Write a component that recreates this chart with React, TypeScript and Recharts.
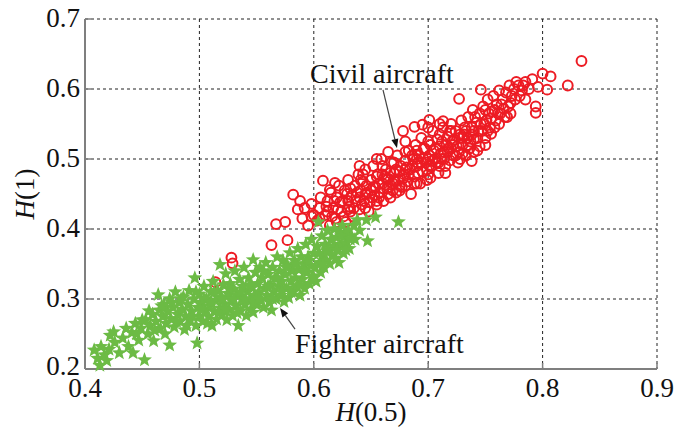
import React from "react";
import {
  ScatterChart,
  Scatter,
  XAxis,
  YAxis,
  CartesianGrid,
  ReferenceDot,
  ReferenceLine,
  Label,
} from "recharts";

const xTicks = [0.4, 0.5, 0.6, 0.7, 0.8, 0.9];
const yTicks = [0.2, 0.3, 0.4, 0.5, 0.6, 0.7];

const civilPairs: [number, number][] = [
  [0.528, 0.359], [0.529, 0.351], [0.514, 0.324], [0.563, 0.377], [0.577, 0.384],
  [0.567, 0.407], [0.575, 0.41], [0.582, 0.449], [0.586, 0.428], [0.59, 0.415],
  [0.595, 0.405], [0.598, 0.436], [0.6, 0.42], [0.603, 0.412], [0.605, 0.43],
  [0.608, 0.469], [0.61, 0.42], [0.612, 0.44], [0.614, 0.405], [0.615, 0.452],
  [0.617, 0.43], [0.619, 0.415], [0.62, 0.445], [0.622, 0.462], [0.624, 0.425],
  [0.625, 0.44], [0.627, 0.455], [0.628, 0.41], [0.63, 0.47], [0.631, 0.432],
  [0.633, 0.448], [0.634, 0.418], [0.636, 0.462], [0.637, 0.44], [0.639, 0.478],
  [0.64, 0.428], [0.641, 0.455], [0.643, 0.468], [0.644, 0.44], [0.645, 0.485],
  [0.647, 0.452], [0.648, 0.425], [0.65, 0.47], [0.651, 0.445], [0.652, 0.49],
  [0.654, 0.46], [0.655, 0.435], [0.656, 0.478], [0.658, 0.452], [0.659, 0.5],
  [0.66, 0.465], [0.661, 0.44], [0.663, 0.485], [0.664, 0.458], [0.665, 0.472],
  [0.667, 0.445], [0.668, 0.495], [0.669, 0.465], [0.67, 0.48], [0.672, 0.452],
  [0.673, 0.505], [0.674, 0.47], [0.676, 0.49], [0.677, 0.46], [0.678, 0.54],
  [0.679, 0.478], [0.68, 0.498], [0.682, 0.468], [0.683, 0.512], [0.684, 0.485],
  [0.685, 0.45], [0.687, 0.5], [0.688, 0.475], [0.689, 0.52], [0.69, 0.49],
  [0.692, 0.505], [0.693, 0.465], [0.694, 0.53], [0.695, 0.482], [0.697, 0.515],
  [0.698, 0.495], [0.699, 0.47], [0.7, 0.525], [0.701, 0.505], [0.702, 0.473],
  [0.703, 0.49], [0.704, 0.54], [0.705, 0.512], [0.707, 0.495], [0.708, 0.528],
  [0.709, 0.48], [0.71, 0.518], [0.712, 0.5], [0.713, 0.545], [0.714, 0.51],
  [0.715, 0.49], [0.717, 0.532], [0.718, 0.515], [0.719, 0.498], [0.72, 0.55],
  [0.721, 0.525], [0.722, 0.505], [0.724, 0.54], [0.725, 0.518], [0.726, 0.495],
  [0.727, 0.586], [0.727, 0.51], [0.728, 0.535], [0.729, 0.555], [0.73, 0.52],
  [0.732, 0.545], [0.733, 0.505], [0.734, 0.53], [0.735, 0.56], [0.736, 0.515],
  [0.738, 0.497], [0.738, 0.545], [0.739, 0.57], [0.74, 0.528], [0.742, 0.552],
  [0.743, 0.512], [0.745, 0.518], [0.745, 0.565], [0.746, 0.599], [0.747, 0.54],
  [0.748, 0.575], [0.75, 0.53], [0.751, 0.555], [0.752, 0.585], [0.754, 0.545],
  [0.755, 0.536], [0.756, 0.568], [0.757, 0.59], [0.759, 0.555], [0.76, 0.578],
  [0.762, 0.598], [0.763, 0.565], [0.765, 0.585], [0.767, 0.56], [0.768, 0.595],
  [0.769, 0.56], [0.77, 0.575], [0.771, 0.605], [0.773, 0.59], [0.775, 0.6],
  [0.777, 0.61], [0.779, 0.605], [0.782, 0.598], [0.785, 0.61], [0.788, 0.6],
  [0.791, 0.614], [0.794, 0.575], [0.794, 0.566], [0.796, 0.603], [0.8, 0.622],
  [0.804, 0.599], [0.807, 0.618], [0.822, 0.605], [0.834, 0.64],
  [0.623, 0.438], [0.629, 0.45], [0.635, 0.43], [0.641, 0.47], [0.646, 0.462],
  [0.653, 0.448], [0.657, 0.465], [0.662, 0.475], [0.666, 0.46], [0.671, 0.468],
  [0.675, 0.482], [0.681, 0.488], [0.686, 0.49], [0.691, 0.495], [0.696, 0.5],
  [0.701, 0.49], [0.706, 0.5], [0.711, 0.508], [0.716, 0.52], [0.723, 0.528],
  [0.731, 0.535], [0.737, 0.525], [0.744, 0.54], [0.749, 0.55], [0.753, 0.565],
  [0.758, 0.57], [0.764, 0.578], [0.643, 0.478], [0.632, 0.458], [0.66, 0.49],
  [0.67, 0.495], [0.68, 0.51], [0.69, 0.512], [0.71, 0.535], [0.72, 0.54],
  [0.6185, 0.466], [0.614, 0.456], [0.688, 0.546], [0.695, 0.549], [0.701, 0.556],
  [0.713, 0.554],
  [0.605, 0.415], [0.611, 0.432], [0.616, 0.418], [0.618, 0.44], [0.621, 0.428],
  [0.626, 0.418], [0.63, 0.44], [0.632, 0.425], [0.638, 0.452], [0.642, 0.435],
  [0.645, 0.45], [0.649, 0.438], [0.652, 0.46], [0.655, 0.475], [0.657, 0.445],
  [0.661, 0.458], [0.664, 0.47], [0.667, 0.48], [0.669, 0.455], [0.672, 0.485],
  [0.675, 0.462], [0.678, 0.472], [0.68, 0.485], [0.683, 0.478], [0.686, 0.505],
  [0.688, 0.465], [0.691, 0.48], [0.694, 0.495], [0.696, 0.515], [0.699, 0.485],
  [0.702, 0.52], [0.704, 0.498], [0.707, 0.515], [0.709, 0.495], [0.712, 0.525],
  [0.714, 0.5], [0.717, 0.51], [0.719, 0.54], [0.722, 0.52], [0.724, 0.505],
  [0.727, 0.53], [0.73, 0.508], [0.733, 0.54], [0.735, 0.52], [0.738, 0.535],
  [0.741, 0.56], [0.743, 0.53], [0.746, 0.55], [0.75, 0.57], [0.752, 0.54],
  [0.755, 0.558], [0.758, 0.545], [0.761, 0.565], [0.766, 0.572], [0.772, 0.58],
  [0.776, 0.585], [0.78, 0.59], [0.783, 0.605], [0.65, 0.455], [0.66, 0.478],
  [0.67, 0.47], [0.68, 0.462], [0.69, 0.5], [0.7, 0.5], [0.71, 0.49],
  [0.72, 0.515], [0.73, 0.53], [0.74, 0.54], [0.64, 0.445], [0.63, 0.428],
  [0.62, 0.41], [0.612, 0.425], [0.606, 0.445], [0.598, 0.418], [0.592, 0.43],
  [0.588, 0.44],
  [0.645, 0.43], [0.655, 0.44], [0.665, 0.45], [0.675, 0.455], [0.69, 0.465],
  [0.7, 0.478], [0.715, 0.48], [0.728, 0.5], [0.74, 0.51], [0.75, 0.52],
  [0.762, 0.55], [0.772, 0.565], [0.785, 0.585], [0.64, 0.49], [0.655, 0.5],
  [0.665, 0.51], [0.68, 0.525], [0.7, 0.545], [0.71, 0.55],
];

const fighterPairs: [number, number][] = [
  [0.408, 0.227], [0.411, 0.215], [0.413, 0.205], [0.414, 0.232], [0.417, 0.22],
  [0.419, 0.212], [0.421, 0.228], [0.422, 0.248], [0.425, 0.253], [0.426, 0.238],
  [0.43, 0.223], [0.433, 0.244], [0.436, 0.258], [0.438, 0.232], [0.442, 0.223],
  [0.441, 0.252], [0.444, 0.265], [0.447, 0.241], [0.449, 0.258], [0.452, 0.213],
  [0.453, 0.27], [0.455, 0.25], [0.457, 0.262], [0.459, 0.278], [0.46, 0.24],
  [0.462, 0.268], [0.464, 0.306], [0.465, 0.284], [0.466, 0.258], [0.468, 0.275],
  [0.469, 0.292], [0.471, 0.265], [0.472, 0.283], [0.474, 0.234], [0.474, 0.3],
  [0.475, 0.272], [0.477, 0.288], [0.478, 0.26], [0.479, 0.31], [0.481, 0.278],
  [0.482, 0.295], [0.483, 0.268], [0.485, 0.285], [0.486, 0.303], [0.487, 0.256],
  [0.488, 0.275], [0.49, 0.292], [0.491, 0.312], [0.492, 0.27], [0.493, 0.283],
  [0.495, 0.3], [0.496, 0.33], [0.497, 0.262], [0.498, 0.237], [0.499, 0.288],
  [0.5, 0.275], [0.5, 0.307], [0.502, 0.295], [0.503, 0.268], [0.504, 0.318],
  [0.505, 0.283], [0.506, 0.3], [0.508, 0.275], [0.509, 0.29], [0.51, 0.31],
  [0.511, 0.262], [0.512, 0.325], [0.513, 0.282], [0.514, 0.298], [0.515, 0.271],
  [0.516, 0.312], [0.518, 0.349], [0.518, 0.287], [0.519, 0.303], [0.52, 0.278],
  [0.521, 0.32], [0.522, 0.293], [0.523, 0.336], [0.524, 0.27], [0.525, 0.308],
  [0.526, 0.285], [0.527, 0.322], [0.528, 0.298], [0.529, 0.276], [0.53, 0.314],
  [0.531, 0.34], [0.532, 0.29], [0.533, 0.305], [0.534, 0.262], [0.535, 0.328],
  [0.536, 0.283], [0.537, 0.3], [0.538, 0.318], [0.539, 0.345], [0.54, 0.292],
  [0.541, 0.276], [0.542, 0.31], [0.543, 0.33], [0.544, 0.298], [0.545, 0.285],
  [0.546, 0.318], [0.547, 0.281], [0.547, 0.356], [0.548, 0.305], [0.549, 0.338],
  [0.55, 0.292], [0.551, 0.322], [0.552, 0.31], [0.553, 0.345], [0.554, 0.298],
  [0.555, 0.33], [0.556, 0.288], [0.557, 0.315], [0.558, 0.352], [0.559, 0.305],
  [0.56, 0.335], [0.561, 0.296], [0.562, 0.32], [0.563, 0.284], [0.564, 0.345],
  [0.565, 0.31], [0.566, 0.33], [0.567, 0.3], [0.568, 0.36], [0.569, 0.318],
  [0.57, 0.34], [0.571, 0.305], [0.572, 0.325], [0.573, 0.355], [0.574, 0.296],
  [0.575, 0.335], [0.576, 0.315], [0.577, 0.348], [0.578, 0.302], [0.579, 0.366],
  [0.58, 0.325], [0.581, 0.34], [0.582, 0.31], [0.583, 0.355], [0.584, 0.33],
  [0.585, 0.318], [0.586, 0.372], [0.587, 0.342], [0.588, 0.305], [0.589, 0.36],
  [0.59, 0.328], [0.591, 0.35], [0.592, 0.315], [0.593, 0.378], [0.594, 0.338],
  [0.595, 0.36], [0.596, 0.322], [0.597, 0.348], [0.598, 0.385], [0.599, 0.333],
  [0.6, 0.365], [0.601, 0.345], [0.602, 0.325], [0.603, 0.375], [0.604, 0.41],
  [0.605, 0.352], [0.606, 0.338], [0.607, 0.39], [0.608, 0.362], [0.609, 0.345],
  [0.61, 0.378], [0.611, 0.355], [0.612, 0.398], [0.613, 0.368], [0.614, 0.35],
  [0.615, 0.385], [0.616, 0.362], [0.617, 0.375], [0.618, 0.4], [0.619, 0.358],
  [0.62, 0.388], [0.621, 0.37], [0.622, 0.352], [0.623, 0.395], [0.624, 0.378],
  [0.625, 0.405], [0.626, 0.365], [0.627, 0.39], [0.628, 0.38], [0.63, 0.398],
  [0.631, 0.372], [0.633, 0.39], [0.635, 0.405], [0.636, 0.385], [0.638, 0.413],
  [0.64, 0.398], [0.646, 0.413], [0.647, 0.383], [0.654, 0.417], [0.674, 0.41],
  [0.445, 0.25], [0.45, 0.27], [0.456, 0.283], [0.461, 0.255], [0.467, 0.29],
  [0.47, 0.25], [0.476, 0.295], [0.48, 0.268], [0.484, 0.3], [0.489, 0.262],
  [0.494, 0.275], [0.497, 0.31], [0.501, 0.285], [0.504, 0.3], [0.507, 0.265],
  [0.51, 0.295], [0.513, 0.31], [0.517, 0.28], [0.52, 0.3], [0.523, 0.285],
  [0.526, 0.315], [0.53, 0.3], [0.533, 0.28], [0.536, 0.31], [0.54, 0.3],
  [0.544, 0.32], [0.548, 0.295], [0.552, 0.3], [0.556, 0.34], [0.56, 0.318],
  [0.564, 0.3], [0.568, 0.33], [0.572, 0.31], [0.576, 0.345], [0.58, 0.31],
  [0.584, 0.35], [0.588, 0.32], [0.592, 0.34], [0.596, 0.355], [0.6, 0.33],
  [0.604, 0.365], [0.608, 0.35], [0.612, 0.37], [0.616, 0.385], [0.62, 0.37],
  [0.624, 0.39], [0.628, 0.37], [0.632, 0.385],
];

const civilData = civilPairs.map(([x, y]) => ({ x, y }));
const fighterData = fighterPairs.map(([x, y]) => ({ x, y }));

const RED = "#ED1C24";
const GREEN = "#6CBB45";
const AXIS = "#7f7f7f";
const FONT = "'Liberation Serif', 'Times New Roman', serif";

const CircleShape = (p: any) => (
  <circle cx={p.cx} cy={p.cy} r={4.9} fill="none" stroke={RED} strokeWidth={2} />
);

const StarShape = (p: any) => {
  const { cx, cy } = p;
  const R = 7.8;
  const r = 3.3;
  const pts: string[] = [];
  for (let i = 0; i < 10; i++) {
    const a = -Math.PI / 2 + (i * Math.PI) / 5;
    const rad = i % 2 === 0 ? R : r;
    pts.push(`${cx + rad * Math.cos(a)},${cy + rad * Math.sin(a)}`);
  }
  return <polygon points={pts.join(" ")} fill={GREEN} stroke="none" />;
};

const BottomTick = (p: any) => (
  <g>
    <line x1={p.x} y1={p.y} x2={p.x} y2={p.y - 6} stroke={AXIS} strokeWidth={1.5} />
    <text x={p.x} y={p.y + 28} textAnchor="middle" fontFamily={FONT} fontSize={27} fill="#111">
      {p.payload.value.toFixed(1)}
    </text>
  </g>
);
const TopTick = (p: any) => (
  <line x1={p.x} y1={p.y} x2={p.x} y2={p.y + 6} stroke={AXIS} strokeWidth={1.5} />
);
const LeftTick = (p: any) => (
  <g>
    <line x1={p.x} y1={p.y} x2={p.x + 6} y2={p.y} stroke={AXIS} strokeWidth={1.5} />
    <text
      x={p.x - 5}
      y={p.y + (p.payload.value <= 0.2 ? 6 : 8)}
      textAnchor="end"
      fontFamily={FONT}
      fontSize={27}
      fill="#111"
    >
      {p.payload.value.toFixed(1)}
    </text>
  </g>
);
const RightTick = (p: any) => (
  <line x1={p.x} y1={p.y} x2={p.x - 6} y2={p.y} stroke={AXIS} strokeWidth={1.5} />
);

const XLabel = (p: any) => {
  const vb = p.viewBox;
  return (
    <text x={vb.x + vb.width / 2} y={vb.y + 52} textAnchor="middle" fontFamily={FONT} fontSize={27} fill="#111">
      <tspan fontStyle="italic">H</tspan>(0.5)
    </text>
  );
};
const YLabel = (p: any) => {
  const vb = p.viewBox;
  const cx = 34;
  const cy = vb.y + vb.height / 2;
  return (
    <text x={cx} y={cy} transform={`rotate(-90, ${cx}, ${cy})`} textAnchor="middle" fontFamily={FONT} fontSize={27} fill="#111">
      <tspan fontStyle="italic">H</tspan>(1)
    </text>
  );
};

const TextShape = (txt: string) => (p: any) => (
  <text x={p.cx} y={p.cy} textAnchor="start" fontFamily={FONT} fontSize={28} fill="#111">
    {txt}
  </text>
);

const ArrowShape = (p: any) => {
  const { x1, y1, x2, y2 } = p;
  const ang = Math.atan2(y2 - y1, x2 - x1);
  const L = 9;
  const W = 3.5;
  const bx = x2 - L * Math.cos(ang);
  const by = y2 - L * Math.sin(ang);
  const px = -Math.sin(ang) * W;
  const py = Math.cos(ang) * W;
  return (
    <g>
      <line x1={x1} y1={y1} x2={bx} y2={by} stroke="#444" strokeWidth={1.2} />
      <polygon points={`${x2},${y2} ${bx + px},${by + py} ${bx - px},${by - py}`} fill="#111" />
    </g>
  );
};

export default function App() {
  return (
    <div style={{ position: "absolute", left: 0, top: 0, width: 690, height: 430, background: "#fff" }}>
      <ScatterChart width={690} height={430} margin={{ top: 19, right: 33, bottom: 21, left: 0 }}>
        <CartesianGrid stroke="#222" strokeDasharray="3 3" strokeWidth={1} />
        <XAxis
          type="number"
          dataKey="x"
          domain={[0.4, 0.9]}
          ticks={xTicks}
          height={40}
          tickSize={0}
          tickMargin={0}
          tickLine={false}
          tick={<BottomTick />}
          axisLine={{ stroke: AXIS, strokeWidth: 2 }}
          interval={0}
        >
          <Label content={<XLabel />} />
        </XAxis>
        <XAxis
          xAxisId="top"
          orientation="top"
          type="number"
          dataKey="x"
          domain={[0.4, 0.9]}
          ticks={xTicks}
          height={0}
          tickSize={0}
          tickLine={false}
          tick={<TopTick />}
          axisLine={{ stroke: AXIS, strokeWidth: 2 }}
          interval={0}
        />
        <YAxis
          type="number"
          dataKey="y"
          domain={[0.2, 0.7]}
          ticks={yTicks}
          width={85}
          tickSize={0}
          tickMargin={0}
          tickLine={false}
          tick={<LeftTick />}
          axisLine={{ stroke: AXIS, strokeWidth: 2 }}
          interval={0}
        >
          <Label content={<YLabel />} />
        </YAxis>
        <YAxis
          yAxisId="right"
          orientation="right"
          type="number"
          dataKey="y"
          domain={[0.2, 0.7]}
          ticks={yTicks}
          width={0}
          tickSize={0}
          tickLine={false}
          tick={<RightTick />}
          axisLine={{ stroke: AXIS, strokeWidth: 2 }}
          interval={0}
        />
        <Scatter data={civilData} shape={<CircleShape />} isAnimationActive={false} />
        <Scatter data={fighterData} shape={<StarShape />} isAnimationActive={false} />
        <ReferenceLine
          segment={[{ x: 0.6605, y: 0.5986 }, { x: 0.6727, y: 0.5157 }]}
          shape={ArrowShape}
          ifOverflow="visible"
        />
        <ReferenceLine
          segment={[{ x: 0.5836, y: 0.2571 }, { x: 0.5705, y: 0.2871 }]}
          shape={ArrowShape}
          ifOverflow="visible"
        />
        <ReferenceDot x={0.5967} y={0.6086} r={0} shape={TextShape("Civil aircraft")} ifOverflow="visible" />
        <ReferenceDot x={0.5836} y={0.2229} r={0} shape={TextShape("Fighter aircraft")} ifOverflow="visible" />
      </ScatterChart>
    </div>
  );
}
